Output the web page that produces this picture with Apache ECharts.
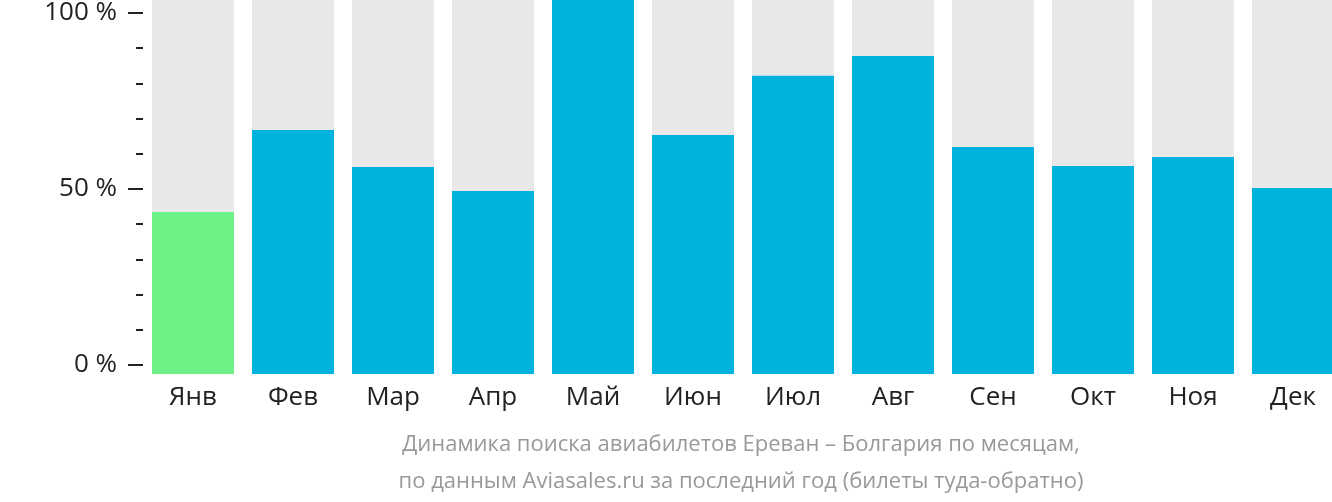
<!DOCTYPE html>
<html>
<head>
<meta charset="utf-8">
<script src="https://cdn.jsdelivr.net/npm/echarts@6/dist/echarts.min.js"></script>
<style>
html,body{margin:0;padding:0;background:#fff;overflow:hidden;}
#chart{width:1343px;height:502px;}
</style>
</head>
<body>
<div id="chart"></div>
<script>
const categories = ['Янв','Фев','Мар','Апр','Май','Июн','Июл','Авг','Сен','Окт','Ноя','Дек'];
const values = [43.0, 66.0, 55.6, 48.9, 102.5, 64.6, 81.2, 86.8, 61.2, 55.9, 58.4, 49.7];
const baseValues = [-2.5, -2.5, -2.5, -2.5, -2.5, -2.5, -2.5, -2.5, -2.5, -2.5, -2.5, -2.5];
const highlightIndex = 0;
const yTicks = [0, 50, 100];
const captionLines = ['Динамика поиска авиабилетов Ереван – Болгария по месяцам,', 'по данным Aviasales.ru за последний год (билеты туда-обратно)'];

const BLUE = '#00b2de', GREEN = '#6cf287';
const colorFor = i => i === highlightIndex ? GREEN : BLUE;

const chart = echarts.init(document.getElementById('chart'), null, {renderer: 'canvas'});
chart.setOption({
  animation: false,
  textStyle: {fontFamily: 'Open Sans'},
  grid: [
    {left: 143, top: 0, width: 1200, height: 374},
    {left: 143, top: 9, width: 1, height: 356}
  ],
  xAxis: [
    {type: 'category', gridIndex: 0, data: categories,
     axisLine: {show: false}, axisTick: {show: false},
     axisLabel: {color: '#222', fontSize: 26, margin: 11, fontFamily: 'Open Sans'}},
    {type: 'value', gridIndex: 1, show: false}
  ],
  yAxis: [
    {type: 'value', gridIndex: 0, min: -2.5, max: 102.5, show: false},
    {type: 'value', gridIndex: 1, min: yTicks[0], max: yTicks[yTicks.length - 1], interval: 50,
     axisLine: {show: false},
     axisTick: {show: true, length: 15, lineStyle: {color: '#222', width: 2}},
     minorTick: {show: true, splitNumber: 5, length: 7, lineStyle: {color: '#222', width: 2}},
     splitLine: {show: false},
     axisLabel: {formatter: '{value} %', color: '#222', fontSize: 26, margin: 26, fontFamily: 'Open Sans'}}
  ],
  series: [
    {type: 'bar', xAxisIndex: 0, yAxisIndex: 0, stack: 'a', barWidth: 82,
     showBackground: true, backgroundStyle: {color: '#e8e8e8'},
     data: values.map((v, i) => ({value: v, itemStyle: {color: colorFor(i)}}))},
    {type: 'bar', xAxisIndex: 0, yAxisIndex: 0, stack: 'a', barWidth: 82,
     data: baseValues.map((v, i) => ({value: v, itemStyle: {color: colorFor(i)}}))}
  ],
  graphic: captionLines.map((t, i) => ({
    type: 'text', x: 741, y: 445 + i * 37,
    style: {text: t, fill: '#999', font: '22px "Open Sans"', textAlign: 'center', textVerticalAlign: 'middle'}
  }))
});
</script>
</body>
</html>
